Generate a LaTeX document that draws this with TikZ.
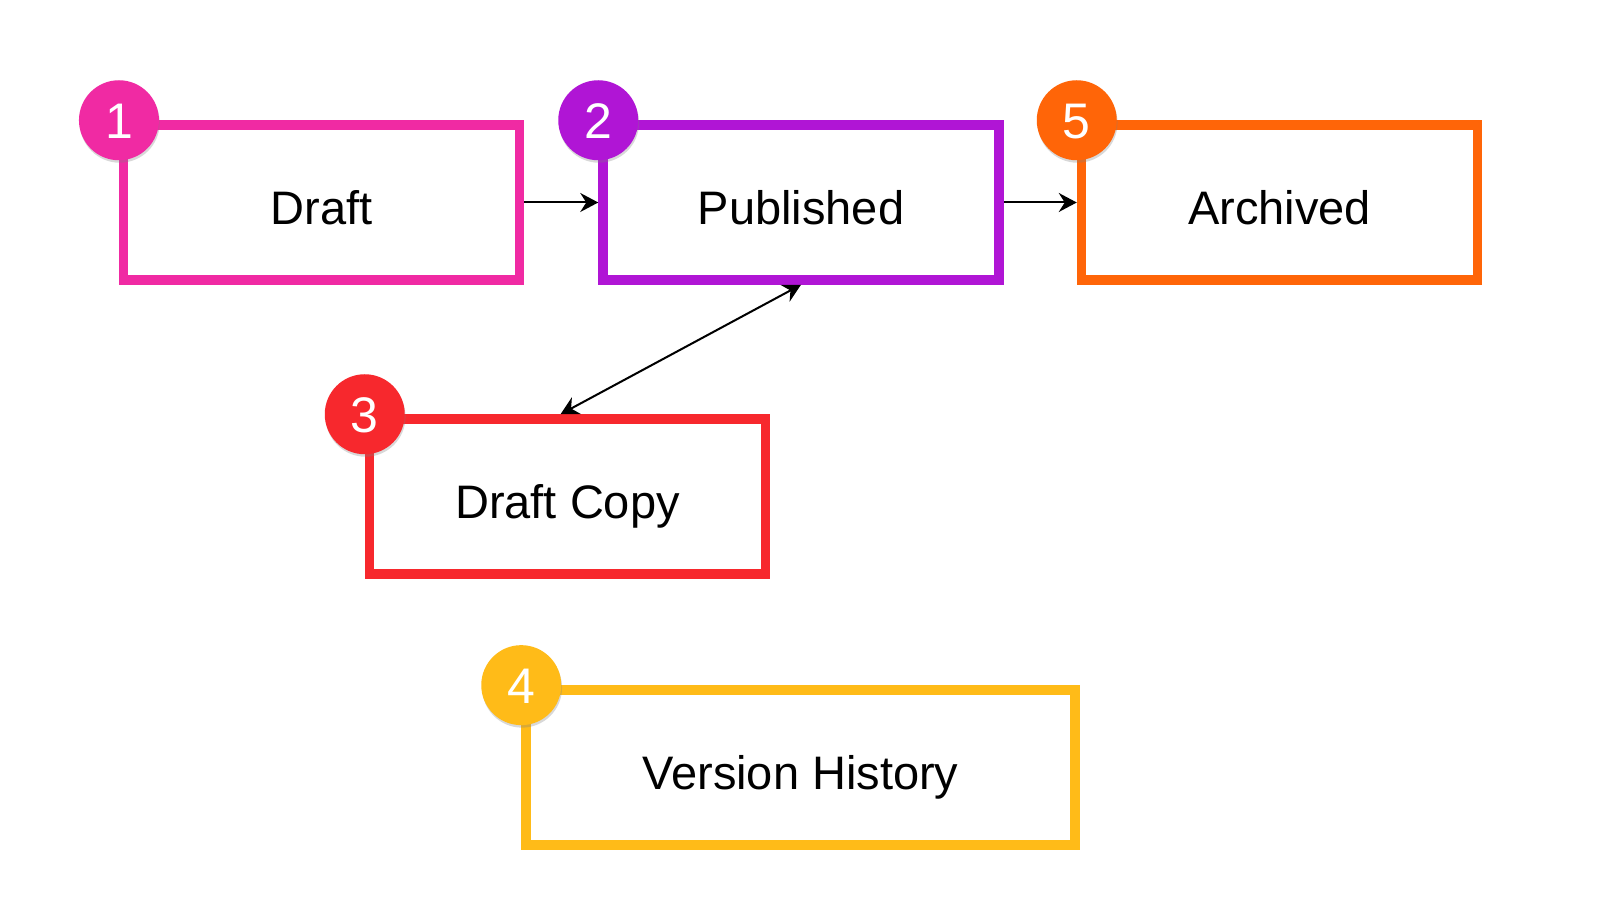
\documentclass[tikz,border=0pt]{standalone}
\usepackage{fontspec}
\setmainfont{Liberation Sans}
\usetikzlibrary{arrows.meta,shadows}
\definecolor{cpink}{HTML}{F02AA3}
\definecolor{cpurple}{HTML}{B015D5}
\definecolor{corange}{HTML}{FF6508}
\definecolor{cred}{HTML}{F7282D}
\definecolor{camber}{HTML}{FFBB18}
\tikzset{
  box/.style={draw=#1, line width=9.5pt, fill=white, rectangle,
    minimum width=396pt, minimum height=155pt, inner sep=0pt,
    font=\fontsize{47}{50}\selectfont, text=black,
    text height=44pt, text depth=0pt},
  badge/.style={circle, fill=#1, minimum size=80pt, inner sep=0pt,
    font=\fontsize{50}{52}\selectfont, text=white,
    text height=36pt, text depth=0pt,
    drop shadow={opacity=0.3, shadow xshift=0.8pt, shadow yshift=-2.5pt}},
  conn/.style={line width=2pt, black,
    -{Stealth[length=18pt,width=19pt,inset=6pt]}},
  biconn/.style={line width=2pt, black,
    {Stealth[length=18pt,width=19pt,inset=6pt]}-{Stealth[length=18pt,width=19pt,inset=6pt]}}
}
\begin{document}
\begin{tikzpicture}[x=1pt,y=1pt]
\fill[white] (0,0) rectangle (1600,900);
\useasboundingbox (0,0) rectangle (1600,900);
% boxes (y measured upward: y = 900 - ypx)
\node[box=cpink]   (draft)   at (321.7,697.5) {Draft};
\node[box=cpurple] (pub)     at (801,697.5)   {Published};
\node[box=corange] (arch)    at (1279.5,697.5) {Archived};
\node[box=cred]    (copy)    at (567.5,403.5) {Draft Copy};
\node[box=camber, minimum width=549pt] (hist) at (800.5,132.6) {Version History};
% badges
\node[badge=cpink]   (b1) at (draft.north west) {1};
\node[badge=cpurple] (b2) at (pub.north west)   {2};
\node[badge=corange] (b5) at (arch.north west)  {5};
\node[badge=cred]    (b3) at (copy.north west)  {3};
\node[badge=camber]  (b4) at (hist.north west)  {4};
% connectors
\draw[conn] (draft.east) -- (pub.west);
\draw[conn] (pub.east) -- (arch.west);
\draw[biconn] (pub.south) -- ([xshift=-7pt]copy.north);
\end{tikzpicture}
\end{document}
